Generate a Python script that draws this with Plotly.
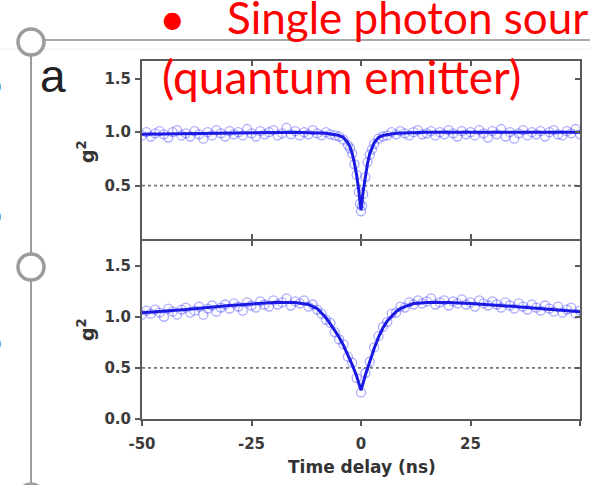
import plotly.graph_objects as go

# ---------------- data ----------------
time_ns = [-50, -49, -48, -47, -46, -45, -44, -43, -42, -41,
           -40, -39, -38, -37, -36, -35, -34, -33, -32, -31,
           -30, -29, -28, -27, -26, -25, -24, -23, -22, -21,
           -20, -19, -18, -17, -16, -15, -14, -13, -12, -11,
           -10, -9, -8, -7, -6, -5, -4, -3, -2, -1,
           0,
           1, 2, 3, 4, 5, 6, 7, 8, 9, 10,
           11, 12, 13, 14, 15, 16, 17, 18, 19, 20,
           21, 22, 23, 24, 25, 26, 27, 28, 29, 30,
           31, 32, 33, 34, 35, 36, 37, 38, 39, 40,
           41, 42, 43, 44, 45, 46, 47, 48, 49, 50]

top_g2 = [0.97, 1.00, 0.96, 0.99, 1.01, 0.98, 0.95, 1.00, 1.02, 0.97,
          0.99, 0.96, 1.01, 0.98, 0.94, 1.00, 0.97, 1.02, 0.99, 0.96,
          1.01, 0.98, 1.00, 0.97, 1.03, 0.99, 0.96, 1.01, 0.98, 1.00,
          1.02, 0.97, 0.99, 1.04, 0.98, 1.01, 0.97, 1.00, 0.98, 1.02,
          0.99, 0.97, 1.00, 0.98, 0.97, 0.96, 0.93, 0.88, 0.80, 0.60,
          0.26,
          0.58, 0.79, 0.89, 0.94, 0.96, 0.97, 1.00, 0.98, 1.01, 0.99,
          0.97, 1.00, 1.02, 0.98, 0.99, 1.01, 0.97, 1.00, 0.98, 1.02,
          0.99, 0.96, 1.01, 0.98, 1.00, 0.97, 1.02, 0.99, 0.95, 1.01,
          0.98, 1.03, 0.96, 1.00, 0.94, 0.99, 1.02, 0.97, 1.00, 0.98,
          1.01, 0.96, 1.00, 1.02, 0.98, 0.97, 1.01, 0.99, 1.03, 0.98]

top_dip_time = [-2.5, -1.5, -0.5, -0.25, 0.25, 0.5, 1.5, 2.5]
top_dip_g2 = [0.85, 0.70, 0.44, 0.33, 0.31, 0.42, 0.72, 0.84]

top_fit_time = [-50, -30, -15, -8, -5, -4, -3, -2.5, -2, -1.5, -1, -0.5, 0,
                0.5, 1, 1.5, 2, 2.5, 3, 4, 5, 8, 15, 30, 50]
top_fit_g2 = [0.98, 0.99, 1.00, 0.99, 0.97, 0.95, 0.90, 0.86, 0.80, 0.71, 0.60, 0.45, 0.27,
              0.45, 0.60, 0.71, 0.80, 0.86, 0.90, 0.95, 0.97, 0.99, 1.00, 1.00, 1.00]

bottom_g2 = [1.02, 1.06, 1.03, 1.07, 1.04, 1.00, 1.08, 1.05, 1.02, 1.07,
             1.09, 1.04, 1.06, 1.10, 1.02, 1.08, 1.11, 1.05, 1.09, 1.12,
             1.08, 1.13, 1.10, 1.06, 1.14, 1.11, 1.09, 1.15, 1.12, 1.10,
             1.16, 1.12, 1.14, 1.18, 1.11, 1.15, 1.13, 1.16, 1.10, 1.12,
             1.07, 1.03, 0.97, 0.94, 0.85, 0.78, 0.73, 0.61, 0.55, 0.40,
             0.26,
             0.45, 0.56, 0.70, 0.81, 0.90, 0.95, 1.03, 1.04, 1.10, 1.09,
             1.14, 1.12, 1.16, 1.13, 1.15, 1.18, 1.12, 1.14, 1.16, 1.11,
             1.15, 1.13, 1.17, 1.12, 1.14, 1.10, 1.16, 1.13, 1.11, 1.15,
             1.12, 1.09, 1.14, 1.11, 1.08, 1.13, 1.10, 1.07, 1.12, 1.09,
             1.06, 1.11, 1.08, 1.05, 1.10, 1.04, 1.07, 1.09, 1.03, 1.06]

bottom_fit_time = [-50, -40, -30, -20, -15, -12, -10, -9, -8, -7, -6, -5, -4, -3, -2, -1, 0,
                   1, 2, 3, 4, 5, 6, 7, 8, 9, 10, 12, 15, 20, 25, 35, 45, 50]
bottom_fit_g2 = [1.04, 1.07, 1.11, 1.14, 1.14, 1.12, 1.08, 1.04, 0.99, 0.93, 0.87, 0.80, 0.72,
                 0.63, 0.53, 0.42, 0.28, 0.43, 0.57, 0.69, 0.80, 0.89, 0.96, 1.01, 1.05, 1.08,
                 1.10, 1.13, 1.14, 1.14, 1.13, 1.10, 1.07, 1.05]

ref_level = [0.5, 0.5]
ref_time = [-50, 50]

x_ticks = [-50, -25, 0, 25, 50]
x_tick_labels = ["-50", "-25", "0", "25", "50"]
top_y_ticks = [0.5, 1.0, 1.5]
bottom_y_ticks = [0.0, 0.5, 1.0, 1.5]

title_text = "Single photon sour"
subtitle_text = "(quantum emitter)"
panel_label = "a"
x_title = "Time delay (ns)"
y_title = "g<sup>2</sup>"

# ---------------- geometry helpers ----------------
W, H = 590, 485


def px(x):
    return x / W


def py(y):
    return 1 - y / H


AX = "#5a5a5a"
TICKFONT = dict(family="DejaVu Sans", size=15, color="#3a3a3a", weight="bold")
PT_COLOR = "rgba(70,70,255,0.45)"
FIT_COLOR = "rgb(25,25,225)"
MARK = dict(symbol="circle-open", size=9, color=PT_COLOR, line=dict(width=1.3, color=PT_COLOR))

fig = go.Figure()

# top panel
fig.add_trace(go.Scatter(x=ref_time, y=ref_level, mode="lines",
                         line=dict(color="#777777", width=1.6, dash="dot"),
                         xaxis="x", yaxis="y", showlegend=False, hoverinfo="skip"))
fig.add_trace(go.Scatter(x=time_ns + top_dip_time, y=top_g2 + top_dip_g2, mode="markers",
                         marker=MARK, xaxis="x", yaxis="y", showlegend=False))
fig.add_trace(go.Scatter(x=top_fit_time, y=top_fit_g2, mode="lines",
                         line=dict(color=FIT_COLOR, width=3),
                         xaxis="x", yaxis="y", showlegend=False))
# carrier for the mirrored (inner-tick) frame axes
fig.add_trace(go.Scatter(x=ref_time, y=ref_level, mode="lines", line=dict(width=0),
                         opacity=0, xaxis="x3", yaxis="y3", showlegend=False, hoverinfo="skip"))

# bottom panel
fig.add_trace(go.Scatter(x=ref_time, y=ref_level, mode="lines",
                         line=dict(color="#777777", width=1.6, dash="dot"),
                         xaxis="x2", yaxis="y2", showlegend=False, hoverinfo="skip"))
fig.add_trace(go.Scatter(x=time_ns, y=bottom_g2, mode="markers",
                         marker=MARK, xaxis="x2", yaxis="y2", showlegend=False))
fig.add_trace(go.Scatter(x=bottom_fit_time, y=bottom_fit_g2, mode="lines",
                         line=dict(color=FIT_COLOR, width=3),
                         xaxis="x2", yaxis="y2", showlegend=False))
fig.add_trace(go.Scatter(x=ref_time, y=ref_level, mode="lines", line=dict(width=0),
                         opacity=0, xaxis="x4", yaxis="y4", showlegend=False, hoverinfo="skip"))

xdom = [px(142), px(580)]
top_dom = [py(239), py(61)]
bot_dom = [py(419), py(241)]

common_x = dict(range=[-50, 50], showgrid=False, zeroline=False, showline=True,
                linecolor=AX, linewidth=2, tickcolor=AX, tickwidth=1.5,
                tickvals=x_ticks, fixedrange=True, automargin=False)
common_y = dict(showgrid=False, zeroline=False, showline=True, linecolor=AX, linewidth=2,
                tickcolor=AX, tickwidth=1.5, ticklen=5, fixedrange=True, automargin=False)

layout = dict(
    width=W, height=H, margin=dict(l=0, r=0, t=0, b=0, autoexpand=False),
    paper_bgcolor="white", plot_bgcolor="white",
    xaxis=dict(common_x, domain=xdom, anchor="y", ticks="inside", ticklen=5,
               tickvals=[-25, 0, 25], showticklabels=False, linewidth=1.5),
    yaxis=dict(common_y, domain=top_dom, anchor="x", range=[0, 1.667], ticks="outside",
               tickvals=top_y_ticks, ticktext=["0.5", "1.0", "1.5"], tickfont=TICKFONT,
               ticklabelstandoff=1),
    xaxis2=dict(common_x, domain=xdom, anchor="y2", ticks="outside", ticklen=5,
                ticktext=x_tick_labels, tickfont=TICKFONT, ticklabelstandoff=5),
    yaxis2=dict(common_y, domain=bot_dom, anchor="x2", range=[0, 1.741], ticks="outside",
                tickvals=bottom_y_ticks, ticktext=["0.0", "0.5", "1.0", "1.5"],
                tickfont=TICKFONT, ticklabelstandoff=1),
    # mirrored frame sides with inward ticks
    xaxis3=dict(common_x, overlaying="x", anchor="y", side="top", ticks="inside", ticklen=5,
                tickvals=[-25, 0, 25], showticklabels=False),
    yaxis3=dict(common_y, overlaying="y", anchor="x", side="right", range=[0, 1.667],
                ticks="inside", tickvals=top_y_ticks, showticklabels=False),
    xaxis4=dict(common_x, overlaying="x2", anchor="y2", side="top", ticks="inside", ticklen=5,
                tickvals=[-25, 0, 25], showticklabels=False, linewidth=1.5),
    yaxis4=dict(common_y, overlaying="y2", anchor="x2", side="right", range=[0, 1.741],
                ticks="inside", tickvals=bottom_y_ticks[1:], showticklabels=False),
)
fig.update_layout(**layout)

# ---------------- slide decorations ----------------
GRAY = "#9c9c9c"
shapes = []
shapes.append(dict(type="line", xref="paper", yref="paper", x0=px(44), x1=px(590),
                   y0=py(40), y1=py(40), line=dict(color="#a8a8a8", width=2)))
shapes.append(dict(type="line", xref="paper", yref="paper", x0=px(0), x1=px(590),
                   y0=py(49), y1=py(49), line=dict(color="#eeeeee", width=1)))
shapes.append(dict(type="line", xref="paper", yref="paper", x0=px(31), x1=px(31),
                   y0=py(55), y1=py(485), line=dict(color=GRAY, width=2)))
for cy in (42, 267, 497):
    shapes.append(dict(type="circle", xref="paper", yref="paper",
                       x0=px(31 - 13), x1=px(31 + 13), y0=py(cy + 13), y1=py(cy - 13),
                       line=dict(color=GRAY, width=3.5), fillcolor="white"))
fig.update_layout(shapes=shapes)

RED = dict(family="Lato", size=46, color="#ff0000")
ann = []
ann.append(dict(text="•", x=px(172), y=py(18), xref="paper", yref="paper",
                xanchor="center", yanchor="middle", showarrow=False, font=RED))
ann.append(dict(text=title_text, x=px(225), y=py(17), xref="paper", yref="paper",
                xanchor="left", yanchor="middle", showarrow=False,
                font=dict(family="Lato", size=44, color="#ff0000")))
ann.append(dict(text=subtitle_text, x=px(160), y=py(76), xref="paper", yref="paper",
                xanchor="left", yanchor="middle", showarrow=False, font=RED))
ann.append(dict(text=panel_label, x=px(53), y=py(76), xref="paper", yref="paper",
                xanchor="center", yanchor="middle", showarrow=False,
                font=dict(family="Liberation Sans", size=46, color="#222222")))
ann.append(dict(text=x_title, x=px(362), y=py(467), xref="paper", yref="paper",
                xanchor="center", yanchor="middle", showarrow=False,
                font=dict(family="DejaVu Sans", size=17, color="#333333", weight="bold")))
for cy in (152, 330):
    ann.append(dict(text=y_title, x=px(86), y=py(cy), xref="paper", yref="paper",
                    xanchor="center", yanchor="middle", showarrow=False, textangle=-90,
                    font=dict(family="DejaVu Sans", size=19, color="#333333", weight="bold")))
# clipped glyphs at the slide's left edge
for cy in (85, 215, 342):
    ann.append(dict(text="o", x=px(3), y=py(cy), xref="paper", yref="paper",
                    xanchor="right", yanchor="middle", showarrow=False,
                    font=dict(family="Liberation Sans", size=26, color="#111111")))
fig.update_layout(annotations=ann)

fig.write_html("out.html")
